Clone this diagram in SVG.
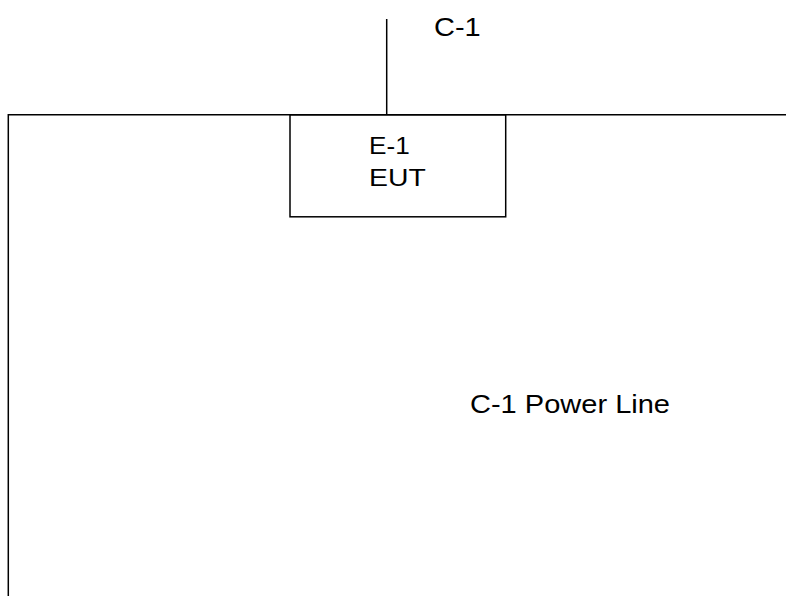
<svg xmlns="http://www.w3.org/2000/svg" width="786" height="596" viewBox="0 0 786 596">
<style>
.ln{stroke:#000;stroke-width:1.5;fill:none}
.t{font-family:"Liberation Sans",Arial,sans-serif;fill:#000}
</style>
<rect x="0" y="0" width="786" height="596" fill="#fff"/>
<g id="connectors">
<polyline class="ln" points="8.3,596 8.3,114.8 786,114.8"/>
<line class="ln" x1="386.7" y1="19" x2="386.7" y2="114.8"/>
</g>
<g id="E-1">
<rect class="ln" x="290" y="114.8" width="215.7" height="102"/>
<text class="t" x="369" y="154" font-size="24" textLength="40.7" lengthAdjust="spacingAndGlyphs">E-1</text>
<text class="t" x="369" y="185.7" font-size="24" textLength="56.7" lengthAdjust="spacingAndGlyphs">EUT</text>
</g>
<g id="labels">
<text class="t" x="434" y="36" font-size="26" textLength="46.7" lengthAdjust="spacingAndGlyphs">C-1</text>
<text class="t" x="470" y="413" font-size="26" textLength="200" lengthAdjust="spacingAndGlyphs">C-1 Power Line</text>
</g>
</svg>
